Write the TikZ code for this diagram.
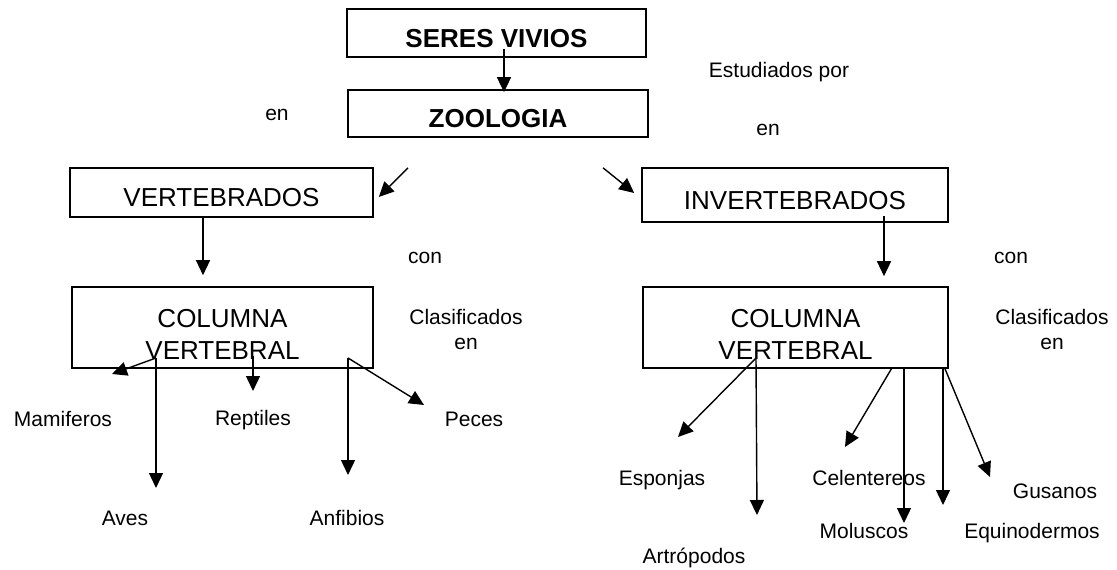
\documentclass[tikz,border=0pt]{standalone}
\usepackage{fontspec}
\setmainfont{Liberation Sans}
\usetikzlibrary{arrows.meta}

\begin{document}
\begin{tikzpicture}[x=1pt, y=-1pt,
    box/.style={draw, line width=1.6pt, inner sep=0pt, align=center, text height=29pt, font=\fontsize{26}{32}\selectfont},
    topbox/.style={box, font=\fontsize{26}{32}\selectfont\bfseries},
    colbox/.style={box, text height=63pt},
    lbl/.style={inner sep=0pt, align=center, text height=15pt, text depth=4pt, font=\fontsize{21}{25}\selectfont},
    twolbl/.style={lbl, text height=38pt, text depth=0pt},
    arr/.style={-{Triangle[length=15pt,width=14pt]}, line width=1.4pt}]
    \useasboundingbox (0,0) rectangle (1117,570);
    % boxes
    \node[topbox, minimum width=299pt, minimum height=48pt] (seres) at (496.5,33) {SERES VIVIOS};
    \node[topbox, minimum width=300pt, minimum height=47pt] (zoo) at (498,113.5) {ZOOLOGIA};
    \node[box, minimum width=303pt, minimum height=49pt] (vert) at (221.5,192.5) {VERTEBRADOS};
    \node[box, minimum width=306pt, minimum height=54pt] (invert) at (795,195) {INVERTEBRADOS};
    \node[colbox, minimum width=301pt, minimum height=81pt] (colL) at (222.5,327.5) {COLUMNA\\VERTEBRAL};
    \node[colbox, minimum width=305pt, minimum height=81pt] (colR) at (795.5,327.5) {COLUMNA\\VERTEBRAL};
    % link words
    \node[lbl] (enA) at (277,115) {en};
    \node[lbl] (estud) at (779,72) {Estudiados por};
    \node[lbl] (enB) at (768,130) {en};
    \node[lbl] (conL) at (425,258) {con};
    \node[twolbl] (clasL) at (466,330.5) {Clasificados\\en};
    \node[lbl] (conR) at (1011,258) {con};
    \node[twolbl] (clasR) at (1052,330.5) {Clasificados\\en};
    % groups
    \node[lbl] (mamif) at (63,421) {Mamiferos};
    \node[lbl] (rept) at (253,420) {Reptiles};
    \node[lbl] (peces) at (474,421) {Peces};
    \node[lbl] (aves) at (125,520) {Aves};
    \node[lbl] (anfib) at (347,520) {Anfibios};
    \node[lbl] (espon) at (662,480) {Esponjas};
    \node[lbl] (celen) at (869,480) {Celentereos};
    \node[lbl] (gusan) at (1055,493) {Gusanos};
    \node[lbl] (molus) at (864,533) {Moluscos};
    \node[lbl] (equin) at (1032,533) {Equinodermos};
    \node[lbl] (artro) at (694,558) {Artrópodos};
    % split points and arrow ends
    \coordinate (kA) at (156,358);
    \coordinate (kB) at (348,358);
    \coordinate (kC) at (756,358);
    \coordinate (tMam) at (112,374);
    \coordinate (tAve) at (156,488);
    \coordinate (tRep) at (253,391);
    \coordinate (tAnf) at (348,475);
    \coordinate (tPec) at (424,405);
    \coordinate (tEsp) at (678,437);
    \coordinate (tArt) at (757,515);
    \coordinate (tCel) at (845,447);
    \coordinate (tMol) at (904,523);
    \coordinate (tEqu) at (943,505);
    \coordinate (tGus) at (990,477);
    % arrows
    \draw[arr] ([xshift=7.5pt,yshift=9pt]seres.south) -- ([xshift=6pt,yshift=-3pt]zoo.north);
    \draw[arr] ([xshift=-90pt,yshift=-30pt]zoo.south) -- ([xshift=5pt,yshift=-4.5pt]vert.east);
    \draw[arr] ([xshift=105pt,yshift=-30pt]zoo.south) -- ([xshift=-7pt,yshift=2pt]invert.west);
    \draw[arr] ([xshift=-18.5pt]vert.south) -- ([xshift=-19.5pt,yshift=11pt]colL.north);
    \draw[arr] ([xshift=89pt,yshift=7pt]invert.south) -- ([xshift=88.5pt,yshift=10pt]colR.north);
    \draw[arr] (kA) -- (tMam);
    \draw[arr] (kA) -- (tAve);
    \draw[arr] ([xshift=30.5pt,yshift=13pt]colL.south) -- (tRep);
    \draw[arr] (kB) -- (tAnf);
    \draw[arr] (kB) -- (tPec);
    \draw[arr] (kC) -- (tEsp);
    \draw[arr] (kC) -- (tArt);
    \draw[arr] ([xshift=96.5pt,yshift=1pt]colR.south) -- (tCel);
    \draw[arr] ([xshift=108.5pt,yshift=1pt]colR.south) -- (tMol);
    \draw[arr] ([xshift=147.5pt]colR.south) -- (tEqu);
    \draw[arr] ([xshift=149.5pt]colR.south) -- (tGus);
\end{tikzpicture}
\end{document}
